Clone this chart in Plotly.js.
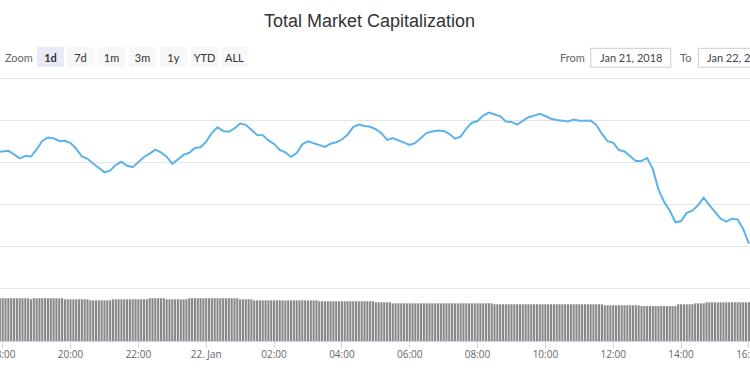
<!DOCTYPE html>
<html>
<head>
<meta charset="utf-8">
<script src="https://cdn.plot.ly/plotly-3.0.1.min.js"></script>
<style>
html,body{margin:0;padding:0;background:#fff;}
#chart{width:750px;height:375px;}
</style>
</head>
<body>
<div id="chart"></div>
<script>
// ---- data ----
const priceStart = '2018-01-21T17:50:00Z';
const priceStepMin = 10;
// total market cap (billion USD), every 10 minutes from 17:50 Jan 21 to 16:00 Jan 22
const marketCap = [
  544.7, 545.1, 545.3, 543.6, 541.7, 542.9, 542.6, 546.0, 550.0, 551.7,
  551.3, 550.0, 550.1, 549.0, 546.3, 542.7, 541.5, 539.3, 537.3, 535.1,
  535.9, 538.6, 540.1, 538.2, 537.5, 540.0, 542.4, 544.0, 545.9, 544.6,
  542.5, 539.1, 541.4, 543.4, 544.4, 546.7, 547.0, 549.7, 553.9, 556.5,
  554.8, 554.4, 556.0, 558.3, 557.7, 555.5, 552.9, 552.8, 550.3, 548.6,
  545.7, 544.6, 542.4, 544.3, 548.4, 549.8, 549.0, 548.0, 547.2, 548.7,
  549.4, 550.7, 553.0, 556.6, 557.8, 557.1, 556.8, 555.6, 553.7, 550.5,
  551.4, 550.3, 549.2, 548.1, 549.1, 551.5, 553.9, 554.5, 555.0, 554.8,
  553.4, 551.1, 552.1, 555.9, 558.7, 559.5, 562.1, 563.5, 562.5, 561.8,
  559.3, 559.1, 557.8, 559.7, 561.3, 562.1, 563.0, 561.9, 560.6, 560.0,
  559.7, 559.3, 560.2, 559.7, 559.6, 559.7, 557.7, 553.4, 549.9, 549.1,
  545.7, 545.0, 542.7, 540.5, 540.5, 541.9, 536.6, 527.0, 521.0, 516.9,
  511.3, 511.9, 515.8, 516.8, 519.4, 523.0, 519.5, 516.0, 513.0, 511.6,
  513.0, 512.7, 508.0, 501.1
];
const volStart = '2018-01-21T17:55:00Z';
const volStepMin = 5;
// 24h volume (billion USD), every 5 minutes from 17:55 Jan 21 to 16:00 Jan 22
const volume24h = [
  28.5, 28.5, 28.5, 28.5, 28.5, 28.5, 28.5, 28.5, 28.5, 28.5, 28.5, 27.8,
  28.5, 28.5, 28.5, 28.5, 28.5, 28.5, 28.5, 28.5, 28.5, 28.5, 28.5,
  27.8, 27.8, 27.8, 27.8, 27.8, 27.8, 27.8, 27.8, 27.8,
  27.1, 27.1, 27.1, 27.1, 27.1, 27.1, 27.1, 27.1,
  27.8, 27.8, 27.8, 27.8, 27.8, 27.8, 27.8, 27.8, 27.8, 27.8, 27.8, 27.8, 27.8,
  28.5, 28.5, 28.5, 28.5, 28.5, 28.5,
  27.8, 27.8, 27.8, 27.8, 27.8, 27.8, 27.8, 27.8,
  28.5, 28.5, 28.5, 28.5, 28.5, 28.5, 28.5, 28.5, 28.5, 28.5, 28.5, 28.5, 28.5, 28.5, 28.5, 28.5, 28.5, 28.5,
  27.8, 27.8, 27.8, 27.8, 27.8,
  27.1, 27.1, 27.1, 27.1, 27.1, 27.1, 27.1, 27.1, 27.1, 27.1, 27.1, 26.9,
  27.1, 27.1, 27.1, 27.1, 27.1, 27.1, 27.1, 27.1, 27.1, 27.1, 27.1,
  26.5, 26.5, 26.5, 26.5, 26.5, 26.5, 26.5, 26.5, 26.5, 26.5,
  26.5, 26.5, 26.5, 26.5, 26.5, 26.5, 26.5, 26.5, 26.5, 26.5,
  25.8, 25.9, 25.8, 25.8, 25.8, 25.8,
  25.1, 25.1, 25.1, 25.1, 25.1, 25.1, 25.1, 25.1, 25.1, 25.1, 25.1, 25.1,
  25.1, 25.1, 25.1, 25.1, 25.1, 25.1, 25.1, 25.1, 25.1, 25.1, 25.1, 25.1,
  25.1, 25.1, 25.1, 25.1, 25.1, 25.1, 25.1, 25.1, 25.1, 25.1, 25.1, 25.1,
  24.5, 24.5, 24.5, 24.5, 24.5, 24.5, 24.5, 24.5, 24.5, 24.5, 24.5, 24.5, 24.5,
  24.5, 24.5, 24.5, 24.5, 24.5, 24.5, 24.5, 24.5, 24.5, 24.5, 24.5, 24.5, 24.5,
  24.5, 24.5, 24.5, 24.5, 24.5, 24.5, 24.5, 24.5, 24.5, 24.5, 24.5, 24.5, 24.5,
  23.8, 23.8, 23.8, 23.8, 23.8, 23.8, 23.8, 23.8, 23.8, 23.8, 23.8, 23.8, 23.8,
  23.3, 23.3, 23.3, 23.3, 23.3, 23.3, 23.3, 23.3, 23.3, 23.3, 23.3, 23.3, 23.3,
  24.5, 24.5, 24.5, 24.5, 24.5, 24.5,
  25.1, 25.1, 25.1, 25.1,
  25.8, 25.8, 25.8, 25.8, 25.8, 25.8, 25.8, 25.8, 25.8, 25.8, 25.8, 25.8, 25.8, 25.8, 25.8, 25.8
];
const tickTimes = [
  '2018-01-21 18:00', '2018-01-21 20:00', '2018-01-21 22:00', '2018-01-22 00:00',
  '2018-01-22 02:00', '2018-01-22 04:00', '2018-01-22 06:00', '2018-01-22 08:00',
  '2018-01-22 10:00', '2018-01-22 12:00', '2018-01-22 14:00', '2018-01-22 16:00'
];
const tickLabels = ['18:00', '20:00', '22:00', '22. Jan', '02:00', '04:00', '06:00', '08:00', '10:00', '12:00', '14:00', '16:00'];
const zoomButtons = ['1d', '7d', '1m', '3m', '1y', 'YTD', 'ALL'];
const fromDate = 'Jan 21, 2018';
const toDate = 'Jan 22, 2018';
const titleText = 'Total Market Capitalization';

// ---- build ----
function times(start, stepMin, n) {
  const t0 = Date.parse(start);
  const out = [];
  for (let i = 0; i < n; i++) {
    out.push(new Date(t0 + i * stepMin * 60000).toISOString().slice(0, 19).replace('T', ' '));
  }
  return out;
}
const priceX = times(priceStart, priceStepMin, marketCap.length);
const volX = times(volStart, volStepMin, volume24h.length);

const W = 750, H = 375;
const px = v => v / W;
const py = v => 1 - v / H;

const traces = [
  {
    x: priceX, y: marketCap, type: 'scatter', mode: 'lines',
    line: {color: '#5cb3ea', width: 2}, xaxis: 'x', yaxis: 'y', hoverinfo: 'x+y'
  },
  {
    x: volX, y: volume24h, type: 'bar',
    marker: {color: '#888888', line: {width: 0}}, xaxis: 'x', yaxis: 'y2', hoverinfo: 'x+y'
  }
];

const annotations = [];
const shapes = [];
const btnFont = 'Lato, "Open Sans", sans-serif';
annotations.push({
  xref: 'paper', yref: 'paper', x: px(18.5), y: py(57), xanchor: 'center', yanchor: 'middle',
  text: 'Zoom', showarrow: false, font: {family: btnFont, size: 11, color: '#666666'}
});
const btnCenters = [50, 80.8, 111.6, 142.4, 173.2, 204, 234.8];
zoomButtons.forEach((b, i) => {
  const sel = i === 0;
  annotations.push({
    xref: 'paper', yref: 'paper', x: px(btnCenters[i]), y: py(57), xanchor: 'center', yanchor: 'middle',
    text: sel ? '<b>' + b + '</b>' : b, showarrow: false,
    width: 27, height: 20, borderpad: 0, borderwidth: 0,
    bgcolor: sel ? '#e6ebf5' : '#f7f7f7',
    font: {family: btnFont, size: 11, color: '#333333'}
  });
});
annotations.push({
  xref: 'paper', yref: 'paper', x: px(572.5), y: py(57.5), xanchor: 'center', yanchor: 'middle',
  text: 'From', showarrow: false, font: {family: btnFont, size: 11, color: '#666666'}
});
annotations.push({
  xref: 'paper', yref: 'paper', x: px(685.5), y: py(57.5), xanchor: 'center', yanchor: 'middle',
  text: 'To', showarrow: false, font: {family: btnFont, size: 11, color: '#666666'}
});
[[590.7, fromDate], [698.3, toDate]].forEach(([x0, t]) => {
  shapes.push({
    type: 'rect', xref: 'paper', yref: 'paper', x0: px(x0), x1: px(x0 + 80), y0: py(67.3), y1: py(48.3),
    line: {color: '#cccccc', width: 1}, fillcolor: '#ffffff', layer: 'above'
  });
  annotations.push({
    xref: 'paper', yref: 'paper', x: px(x0 + 7), y: py(57.8), xanchor: 'left', yanchor: 'middle',
    text: t, showarrow: false, font: {family: btnFont, size: 11, color: '#444444'}
  });
});

const layout = {
  width: W, height: H,
  margin: {l: 0, r: 0, t: 0, b: 0, pad: 0},
  paper_bgcolor: '#ffffff', plot_bgcolor: '#ffffff',
  showlegend: false,
  bargap: 0.25,
  title: {
    text: titleText, x: px(369.5), xanchor: 'center', xref: 'paper',
    y: py(21), yanchor: 'middle',
    font: {family: '"Liberation Sans", Arial, sans-serif', size: 18, color: '#333333'}
  },
  xaxis: {
    type: 'date', domain: [0, 1], anchor: 'y2',
    range: ['2018-01-21 17:55:13', '2018-01-22 16:01:57'],
    tickvals: tickTimes, ticktext: tickLabels, tickmode: 'array',
    ticklabeloverflow: 'allow',
    ticklabelstandoff: -2,
    showgrid: false, zeroline: false,
    showline: true, linecolor: '#ccd6eb', linewidth: 1,
    ticks: 'outside', ticklen: 6, tickcolor: '#ccd6eb', tickwidth: 1,
    tickfont: {family: '"Open Sans", sans-serif', size: 10, color: '#666666'},
    fixedrange: true
  },
  yaxis: {
    domain: [py(292.2), py(73.8)], range: [478, 582],
    tickvals: [480, 500, 520, 540, 560, 580], tickmode: 'array',
    showticklabels: false, showgrid: true, gridcolor: '#e6e6e6', gridwidth: 1,
    zeroline: false, showline: false, ticks: '', fixedrange: true
  },
  yaxis2: {
    domain: [py(341), py(296)], range: [0, 30],
    showticklabels: false, showgrid: false, zeroline: false, showline: false, ticks: '',
    fixedrange: true
  },
  annotations: annotations,
  shapes: shapes
};

Plotly.newPlot('chart', traces, layout, {displayModeBar: false, responsive: false});
</script>
</body>
</html>
